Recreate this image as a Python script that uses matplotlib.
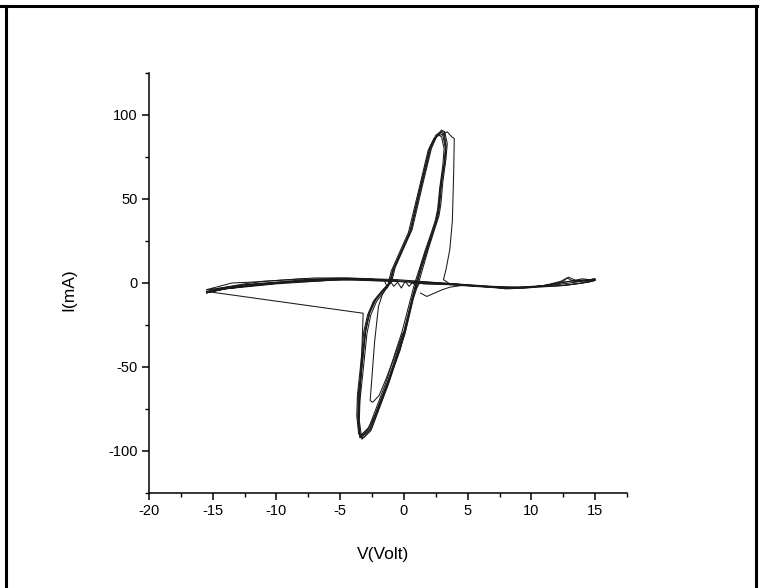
import matplotlib
matplotlib.use("Agg")
import matplotlib.pyplot as plt
from matplotlib.lines import Line2D
from matplotlib.ticker import MultipleLocator

plt.rcParams['font.family'] = ['Liberation Sans', 'DejaVu Sans']
plt.rcParams['axes.unicode_minus'] = False

# ---- low-resistance switching loops (V in volts, I in mA) ----
loop1_v = [1.0, 1.3, 1.8, 2.3, 2.6, 2.75, 2.9, 3.2, 3.3, 3.1, 2.9, 2.5, 2.06, 1.3, 0.5, -0.14, -0.85, -1.1,
           -1.6, -2.26, -2.7, -3.0, -3.3, -3.55, -3.6, -3.45, -3.2, -2.65, -2.0, -1.3, -0.6, 0.0, 0.64, 1.0]
loop1_i = [0, 8, 20, 31, 38, 45, 58, 72, 81, 89, 90, 88, 81, 57, 31, 20, 8, 0,
           -4, -10, -18, -28, -50, -68, -80, -92, -91, -87, -74, -60, -44, -30, -10, 0]

loop2_v = [1.15, 1.45, 1.95, 2.45, 2.75, 2.9, 3.05, 3.3, 3.4, 3.2, 2.95, 2.6, 2.15, 1.45, 0.65, 0.0, -0.7, -0.95,
           -1.45, -2.15, -2.6, -2.9, -3.2, -3.45, -3.5, -3.3, -3.05, -2.5, -1.85, -1.15, -0.45, 0.15, 0.75, 1.15]
loop2_i = [0, 8, 21, 33, 40, 47, 60, 74, 83, 90, 91, 88, 80, 58, 32, 21, 9, 1,
           -4, -11, -19, -30, -52, -70, -82, -93, -91, -86, -72, -58, -42, -28, -9, 0]

loop3_v = [0.85, 1.15, 1.65, 2.15, 2.45, 2.65, 2.8, 3.05, 3.15, 2.95, 2.75, 2.35, 1.9, 1.15, 0.35, -0.3, -1.0, -1.25,
           -1.75, -2.4, -2.85, -3.15, -3.4, -3.65, -3.7, -3.55, -3.3, -2.75, -2.1, -1.4, -0.75, -0.15, 0.5, 0.85]
loop3_i = [0, 7, 19, 30, 37, 44, 56, 70, 80, 87, 88, 86, 79, 55, 30, 19, 7, -1,
           -5, -11, -19, -29, -49, -67, -79, -90, -90, -86, -73, -59, -43, -29, -10, 0]

loop4_v = [1.05, 1.35, 1.85, 2.35, 2.65, 2.8, 2.95, 3.2, 3.3, 3.15, 2.95, 2.55, 2.1, 1.35, 0.55, -0.1, -0.8, -1.05,
           -1.55, -2.2, -2.7, -3.0, -3.3, -3.5, -3.6, -3.4, -3.15, -2.6, -1.95, -1.25, -0.55, 0.05, 0.65, 1.05]
loop4_i = [0, 8, 20, 32, 39, 46, 59, 73, 82, 90, 90, 87, 80, 57, 31, 20, 8, 0,
           -4, -10, -18, -29, -51, -69, -81, -92, -92, -88, -75, -61, -45, -31, -11, 0]

loop5_v = [0.95, 1.25, 1.75, 2.25, 2.55, 2.7, 2.85, 3.15, 3.25, 3.05, 2.85, 2.45, 2.0, 1.25, 0.45, -0.2, -0.9, -1.15,
           -1.65, -2.3, -2.75, -3.05, -3.35, -3.6, -3.6, -3.45, -3.2, -2.65, -2.0, -1.3, -0.65, -0.05, 0.6, 0.95]
loop5_i = [0, 8, 20, 31, 38, 45, 57, 71, 80, 88, 89, 86, 80, 56, 30, 19, 7, 0,
           -4, -10, -18, -28, -50, -68, -80, -91, -90, -86, -73, -59, -44, -30, -10, 0]

# ---- high-resistance sweeps ----
hrs1_v = [0.5, 2, 4, 6, 8, 10, 11.5, 12.5, 12.9, 13.5, 14.5, 15, 14, 12.5, 11, 9, 7, 5, 3, 1,
          -1, -3, -5, -7, -9, -11, -12.5, -13.5, -14.5, -15.5, -14, -12, -10, -8, -6, -4, -2, -0.5]
hrs1_i = [0, -0.5, -1, -2, -3, -2.5, -1, 1, 3.5, 1.5, 1, 2, 0, -1.5, -2, -2.5, -2, -1, 0, 1,
          1.5, 2, 2, 1.5, 1, 0, -1, -2, -3, -5, -3, -1, 0, 1, 2, 2.5, 2, 1]

hrs2_v = [1, 3, 5, 7, 8.5, 10, 11.5, 12.5, 13.5, 14.5, 15, 14, 12.5, 11, 9, 7, 5, 3, 1,
          -1, -3, -5, -7, -9, -11, -12.5, -14, -15.5, -14, -12.5, -11, -9, -7, -5, -3, -1]
hrs2_i = [0, -0.5, -1.5, -2.5, -3, -2.5, -1, 0.5, 1.5, 2, 1.5, 0, -1.5, -2, -2.5, -2.5, -1.5, -0.5, 0.5,
          1, 1.5, 2, 1, 0.5, -0.5, -1.5, -3, -6, -2.5, -0.5, 1, 2, 3, 3, 2.5, 1.5]

hrs3_v = [0.8, 2.5, 4.5, 6.5, 8, 9.5, 11, 12.3, 12.8, 13.3, 14.2, 15, 13.5, 12, 10, 8, 6, 4, 2,
          -0.5, -2.5, -4.5, -6.5, -8.5, -10.5, -12, -13.5, -15.5, -14.5, -13.5, -12, -10, -8, -6, -4, -2]
hrs3_i = [0.5, 0, -1, -2, -3.5, -3, -1.5, 1, 3, 1, 1.5, 2.5, 0.5, -1, -2, -3, -2, -0.5, 0.5,
          2, 2.5, 3, 2.5, 1.5, 0, -1, -2.5, -4, -2, 0, 0.5, 1.5, 2.5, 2, 2.5, 2]

hrs4_v = [1.5, 3.5, 5.5, 7.5, 9, 10.5, 12, 13, 14, 15, 14.5, 13, 11.5, 9.5, 7.5, 5.5, 3.5, 1.5,
          -0.5, -2.5, -4.5, -6.5, -8.5, -10.5, -12.5, -14, -15.3, -14, -12, -10, -8, -6, -4, -2]
hrs4_i = [-0.5, -1, -2, -3, -3, -2, -0.5, 1, 2.5, 1.5, 0.5, -1, -2, -3, -2.5, -1.5, -0.5, 0,
          1, 1.5, 2.5, 2, 1, -0.5, -2, -3.5, -5.5, -3.5, -2, -0.5, 0.5, 1.5, 2, 1.5]

# ---- isolated transitions and partial loops ----
set_v = [-15.5, -3.2, -3.3, -3.45, -3.55, -3.45, -3.0, -2.2, -1.3, -0.3, 0.6, 1.0]
set_i = [-5, -18, -40, -65, -85, -92, -89, -78, -60, -40, -12, 0]

inner_v = [-1.3, -1.7, -2.0, -2.3, -2.5, -2.65, -2.45, -1.95, -1.4, -0.8, -0.1]
inner_i = [-2, -7, -14, -35, -55, -70, -71, -67, -57, -45, -30]

outer_v = [2.9, 3.4, 3.75, 3.95, 3.9, 3.8, 3.6, 3.3, 3.1, 3.6, 4.5]
outer_i = [88, 90, 87, 86, 65, 37, 20, 8, 2, -0.5, -1]

reset_v = [1.3, 1.8, 2.4, 3.0, 3.6, 4.5, 6.0]
reset_i = [-6, -8, -6, -4, -2.5, -1.5, -1.5]

ripple_v = [-1.5, -1.3, -1.1, -0.8, -0.5, -0.2, 0.1, 0.4, 0.7, 1.0, 1.3, 1.6]
ripple_i = [1, -3, 1.5, -2, 0.5, -3, 1, -2, 0.5, -3, 1, 0]

traces = [
    (loop1_v, loop1_i), (loop2_v, loop2_i), (loop3_v, loop3_i),
    (loop4_v, loop4_i), (loop5_v, loop5_i),
    (hrs1_v, hrs1_i), (hrs2_v, hrs2_i), (hrs3_v, hrs3_i), (hrs4_v, hrs4_i),
    (set_v, set_i), (inner_v, inner_i), (outer_v, outer_i),
    (reset_v, reset_i), (ripple_v, ripple_i),
]

W, H = 763, 588
fig = plt.figure(figsize=(W / 100, H / 100), dpi=100)
ax = fig.add_axes([149 / W, 1 - 493 / H, (627 - 149) / W, (493 - 73) / H])

for v, i in traces:
    ax.plot(v, i, color='#1a1a1a', lw=0.75, solid_joinstyle='round')

ax.set_xlim(-20, 17.5)
ax.set_ylim(-125, 125)
ax.xaxis.set_major_locator(MultipleLocator(5))
ax.xaxis.set_minor_locator(MultipleLocator(2.5))
ax.yaxis.set_major_locator(MultipleLocator(50))
ax.yaxis.set_minor_locator(MultipleLocator(25))

for side in ('top', 'right'):
    ax.spines[side].set_visible(False)
for side in ('left', 'bottom'):
    ax.spines[side].set_linewidth(1.1)

ax.tick_params(which='major', direction='out', length=5, width=1.1, labelsize=10.5, pad=3)
ax.tick_params(which='minor', direction='out', length=3, width=1.0)

ax.set_xlabel('V(Volt)', fontsize=12.5)
ax.set_ylabel('I(mA)', fontsize=12.5)
ax.xaxis.set_label_coords((383 - 149) / (627 - 149), -(547 - 493) / (493 - 73))
ax.yaxis.set_label_coords(-(149 - 76) / (627 - 149), (493 - 290) / (493 - 73))

# outer frame
def px_line(x0, y0, x1, y1, lw=2.2):
    fig.add_artist(Line2D([x0 / W, x1 / W], [1 - y0 / H, 1 - y1 / H],
                          transform=fig.transFigure, color='black', lw=lw))

px_line(0, 6, 757, 6)
px_line(6, 6, 6, 588)
px_line(756, 6, 756, 588)

fig.savefig('out.png', dpi=100)
